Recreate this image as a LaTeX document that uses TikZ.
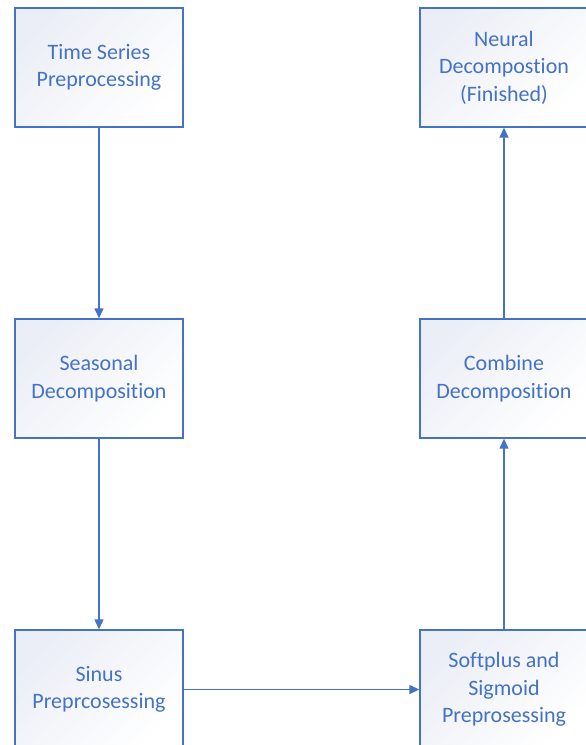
\documentclass[tikz,border=0pt]{standalone}
\usepackage{fontspec}
\setmainfont{Carlito}[RawFeature={-liga;-clig;-calt;-dlig}]
\usepackage{tikz}
\usetikzlibrary{arrows.meta}

\definecolor{boxblue}{HTML}{4472C4}
\definecolor{boxfill}{HTML}{EBEEF6}

\begin{document}
\begin{tikzpicture}[x=1pt, y=-1pt, >={Triangle[length=10pt,width=9pt]},
  stage/.style={draw=boxblue, line width=1.3pt, top color=boxfill, bottom color=white,
    shading angle=45, minimum width=168pt, minimum height=119pt, align=center,
    text=boxblue, font=\fontsize{22}{27.5}\selectfont},
  link/.style={->, draw=boxblue, line width=1.3pt}]

\clip (0,0) rectangle (586,745);

\foreach \j [count=\y] in {{Time Series\\Preprocessing},{Seasonal\\Decomposition},{Sinus\\Preprcosessing}}
  \node [stage] (left-\y) at (99,67.5+311*\y-311) {\j};

\foreach \j [count=\y] in {{Softplus and\\Sigmoid\\Preprosessing},{Combine\\Decomposition},{Neural\\Decompostion\\(Finished)}}
  \node [stage] (right-\y) at (504,689.5-311*\y+311) {\j};

\foreach \i [count=\k from 2] in {1,2}
  \draw [link] (left-\i) -- (left-\k);

\draw [link] (left-3) -- (right-1);

\foreach \i [count=\k from 2] in {1,2}
  \draw [link] (right-\i) -- (right-\k);
\end{tikzpicture}
\end{document}
